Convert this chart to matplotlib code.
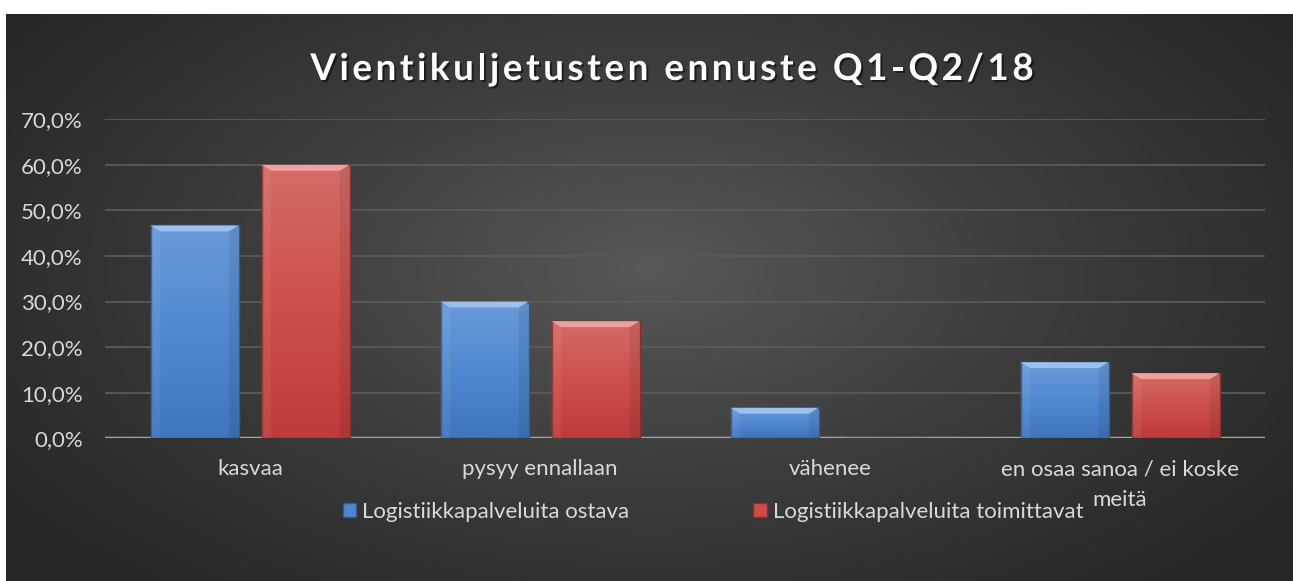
import numpy as np
import matplotlib
matplotlib.use("Agg")
import matplotlib.pyplot as plt
from matplotlib import patheffects
from matplotlib.font_manager import FontProperties
from matplotlib.colors import LinearSegmentedColormap
from matplotlib.patches import Patch

# ---- data ----
categories = ["kasvaa", "pysyy ennallaan", "vähenee", "en osaa sanoa / ei koske\nmeitä"]
series_names = ["Logistiikkapalveluita ostava", "Logistiikkapalveluita toimittavat"]
ostava = [46.7, 30.0, 6.7, 16.7]
toimittavat = [60.0, 25.7, 0.0, 14.3]
yticks = [0, 10, 20, 30, 40, 50, 60, 70]
ytick_labels = ["0,0%", "10,0%", "20,0%", "30,0%", "40,0%", "50,0%", "60,0%", "70,0%"]
title = "Vientikuljetusten ennuste Q1-Q2/18"

W, H = 1293, 581
FS = 16
fig = plt.figure(figsize=(W / 100, H / 100), dpi=100)
fig.patch.set_facecolor("white")

# background with radial gradient
bg = fig.add_axes([6 / W, 0, 1 - 6 / W, (H - 14) / H])
bg.set_axis_off()
yy, xx = np.mgrid[0:1:300j, 0:1:600j]
r = np.sqrt(((xx - 0.5) / 0.62) ** 2 + ((yy - 0.55) / 0.75) ** 2)
r = np.clip(r, 0, 1)
bgcmap = LinearSegmentedColormap.from_list("bg", ["#585858", "#3c3c3c", "#262626"])
bg.imshow(r, cmap=bgcmap, aspect="auto", extent=[0, 1, 0, 1], origin="lower", vmin=0, vmax=1)
bg.set_xlim(0, 1)
bg.set_ylim(0, 1)

# main axes
left, right = 105 / W, 1265 / W
bottom, top = (H - 438.3) / H, (H - 119.3) / H
ax = fig.add_axes([left, bottom, right - left, top - bottom])
ax.patch.set_alpha(0)
for s in ax.spines.values():
    s.set_visible(False)

x = np.arange(len(categories))
bw = 88 / 290
off = 55.5 / 290

blue_cmap = LinearSegmentedColormap.from_list("b", ["#3f75bd", "#5189d0", "#6a9ad8"])
red_cmap = LinearSegmentedColormap.from_list("r", ["#bd3c3b", "#cd504c", "#d46c68"])

ax.set_xlim(-0.5, len(categories) - 0.5)
ax.set_ylim(0, 70)
ax.set_yticks(yticks)
ax.set_yticklabels(ytick_labels)
ax.yaxis.grid(True, color="#5a5a5a", linewidth=1.3)
ax.set_axisbelow(True)
ax.axhline(0, color="#a6a6a6", linewidth=2.5, zorder=3)
ax.tick_params(length=0, colors="#d9d9d9", labelsize=FS)
ax.tick_params(axis="y", pad=16)
ax.tick_params(axis="x", pad=15)
ax.set_xticks(x)
ax.set_xticklabels(categories, linespacing=1.65)
for lab in ax.get_xticklabels() + ax.get_yticklabels():
    lab.set_fontfamily(["Lato", "DejaVu Sans"])
    lab.set_color("#d9d9d9")

grad = np.linspace(0, 1, 100).reshape(-1, 1)


def draw_bars(xpos, vals, cmap, edge, bevel, label):
    bars = ax.bar(xpos, vals, bw, color="none", edgecolor=edge, linewidth=1.0, zorder=4, label=label)
    for b in bars:
        h = b.get_height()
        if h <= 0:
            continue
        x0, w = b.get_x(), b.get_width()
        im = ax.imshow(grad, cmap=cmap, aspect="auto", origin="lower",
                       extent=[x0, x0 + w, 0, h], zorder=3.5)
        im.set_clip_path(b)
        # bevel highlight on the top edge
        dy = min(1.3, h * 0.3)
        dx = w * 0.11
        ax.fill([x0, x0 + w, x0 + w - dx, x0 + dx], [h, h, h - dy, h - dy],
                color=bevel, zorder=4.5, linewidth=0)
        ax.fill([x0, x0 + dx, x0 + dx, x0], [h, h - dy, 0, 0],
                color="white", alpha=0.06, zorder=4.5, linewidth=0)
        ax.fill([x0 + w, x0 + w - dx, x0 + w - dx, x0 + w], [h, h - dy, 0, 0],
                color="black", alpha=0.08, zorder=4.5, linewidth=0)
    return bars


draw_bars(x - off, ostava, blue_cmap, "#2f5a92", "#9cc0ee", series_names[0])
draw_bars(x + off, toimittavat, red_cmap, "#8c2c2b", "#f0a09c", series_names[1])
ax.set_xlim(-0.5, len(categories) - 0.5)
ax.set_ylim(0, 70)

# legend
handles = [Patch(facecolor="#4f86cf", edgecolor="#2f5a92"),
           Patch(facecolor="#cc4c48", edgecolor="#8c2c2b")]
leg = fig.legend(handles, series_names, loc="center", bbox_to_anchor=(713 / W, 1 - 512 / H),
                 ncol=2, frameon=False, handlelength=0.62, handleheight=0.62,
                 handletextpad=0.25, columnspacing=5.6,
                 prop=FontProperties(family=["Lato", "DejaVu Sans"], size=FS))
for t in leg.get_texts():
    t.set_color("#d9d9d9")

# title with letter spacing
fp = FontProperties(family=["Lato", "DejaVu Sans"], weight="bold", size=26.5)
renderer = fig.canvas.get_renderer()
spacing = 3.6  # px
widths = []
for ch in title:
    if ch == " ":
        w1, _, _ = renderer.get_text_width_height_descent("a a", fp, ismath=False)
        w2, _, _ = renderer.get_text_width_height_descent("aa", fp, ismath=False)
        widths.append(w1 - w2)
    else:
        w, _, _ = renderer.get_text_width_height_descent(ch, fp, ismath=False)
        widths.append(w)
total = sum(widths) + spacing * (len(title) - 1)
cx, cy = 672, H - 80
xcur = cx - total / 2
for ch, w in zip(title, widths):
    if ch != " ":
        fig.text(xcur / W, cy / H, ch, fontproperties=fp, color="white",
                 ha="left", va="baseline",
                 path_effects=[patheffects.SimplePatchShadow(offset=(1.5, -1.5), shadow_rgbFace="black", alpha=0.5),
                               patheffects.Normal()])
    xcur += w + spacing

fig.savefig("out.png", dpi=100, facecolor=fig.get_facecolor())
